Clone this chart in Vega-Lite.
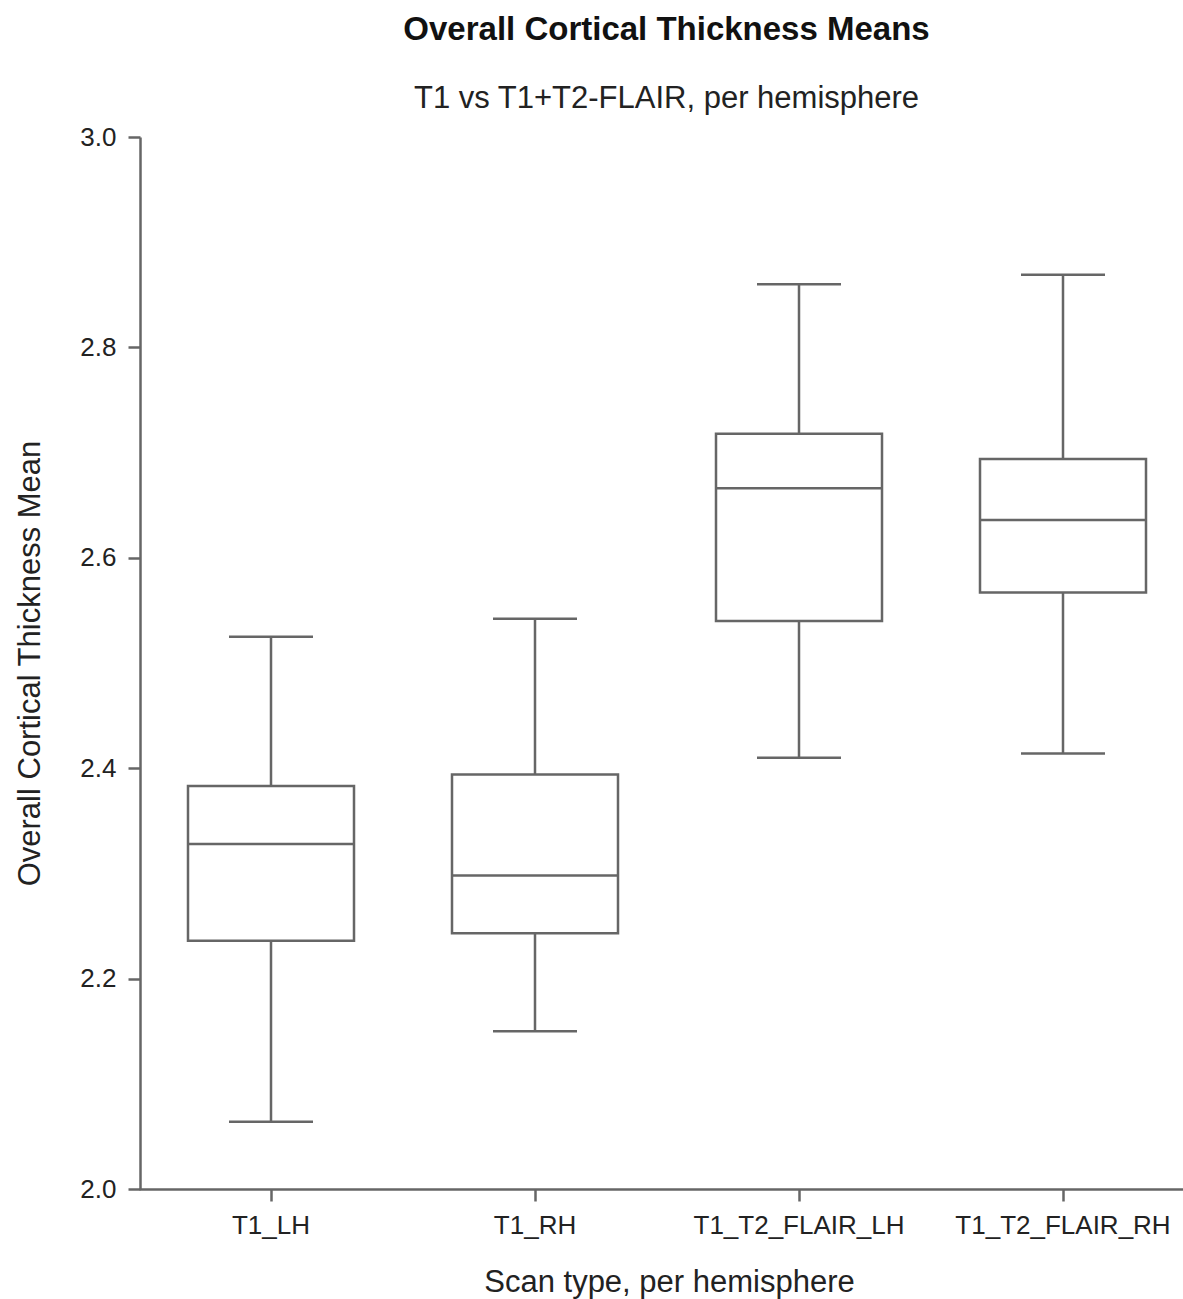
{
  "$schema": "https://vega.github.io/schema/vega-lite/v6.json",
  "autosize": {"type": "none"},
  "padding": {"left": 140, "top": 137, "right": 0, "bottom": 110},
  "width": 1043,
  "height": 1052,
  "background": "white",
  "title": {
    "text": "Overall Cortical Thickness Means",
    "subtitle": "T1 vs T1+T2-FLAIR, per hemisphere",
    "anchor": "middle",
    "dx": 5,
    "font": "Liberation Sans",
    "fontSize": 33,
    "fontWeight": "bold",
    "color": "#111111",
    "subtitleFont": "Liberation Sans",
    "subtitleFontSize": 31,
    "subtitleColor": "#222222",
    "subtitlePadding": 37,
    "offset": 10
  },
  "config": {
    "view": {"stroke": null},
    "axis": {
      "grid": false,
      "domainColor": "#666666",
      "domainWidth": 2.5,
      "tickColor": "#666666",
      "tickWidth": 2.5,
      "tickSize": 12,
      "labelFont": "Liberation Sans",
      "labelFontSize": 26,
      "labelColor": "#222222",
      "labelLimit": 0,
      "titleFont": "Liberation Sans",
      "titleFontSize": 31,
      "titleFontWeight": "normal",
      "titleColor": "#222222"
    }
  },
  "data": {
    "values": [
      {"scan": "T1_LH", "lower": 2.064, "q1": 2.236, "median": 2.328, "q3": 2.383, "upper": 2.525},
      {"scan": "T1_RH", "lower": 2.150, "q1": 2.243, "median": 2.298, "q3": 2.394, "upper": 2.542},
      {"scan": "T1_T2_FLAIR_LH", "lower": 2.410, "q1": 2.540, "median": 2.666, "q3": 2.718, "upper": 2.860},
      {"scan": "T1_T2_FLAIR_RH", "lower": 2.414, "q1": 2.567, "median": 2.636, "q3": 2.694, "upper": 2.869}
    ]
  },
  "encoding": {
    "x": {
      "field": "scan",
      "type": "nominal",
      "sort": null,
      "scale": {"range": [-1, 1055], "paddingInner": 0, "paddingOuter": 0},
      "axis": {
        "title": "Scan type, per hemisphere",
        "labelAngle": 0,
        "labelPadding": 11,
        "titlePadding": 29,
        "titleX": 529
      }
    }
  },
  "layer": [
    {
      "mark": {"type": "rule", "color": "#666666", "strokeWidth": 2.5},
      "encoding": {
        "y": {
          "field": "lower",
          "type": "quantitative",
          "scale": {"domain": [2, 3], "nice": false, "zero": false},
          "axis": {
            "title": "Overall Cortical Thickness Mean",
            "values": [2.0, 2.2, 2.4, 2.6, 2.8, 3.0],
            "format": ".1f",
            "labelPadding": 12,
            "titlePadding": 33
          }
        },
        "y2": {"field": "upper"}
      }
    },
    {
      "mark": {"type": "bar", "fill": "white", "stroke": "#666666", "strokeWidth": 2.5, "size": 166},
      "encoding": {
        "y": {"field": "q1", "type": "quantitative"},
        "y2": {"field": "q3"}
      }
    },
    {
      "mark": {"type": "tick", "color": "#666666", "opacity": 1, "thickness": 2.5, "size": 166},
      "encoding": {
        "y": {"field": "median", "type": "quantitative"}
      }
    },
    {
      "mark": {"type": "tick", "color": "#666666", "opacity": 1, "thickness": 2.5, "size": 84},
      "encoding": {
        "y": {"field": "lower", "type": "quantitative"}
      }
    },
    {
      "mark": {"type": "tick", "color": "#666666", "opacity": 1, "thickness": 2.5, "size": 84},
      "encoding": {
        "y": {"field": "upper", "type": "quantitative"}
      }
    }
  ]
}
